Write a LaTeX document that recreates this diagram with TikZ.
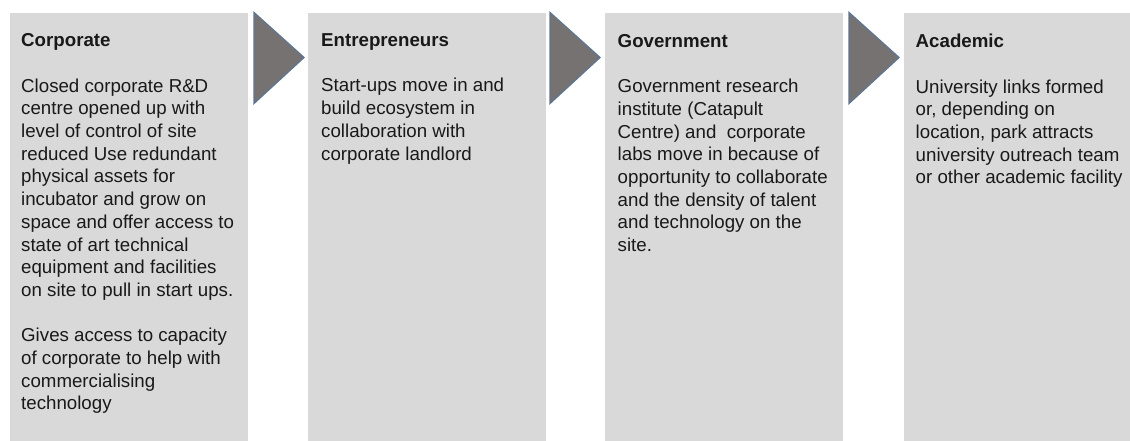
\documentclass[tikz,border=0pt]{standalone}
\usepackage{fontspec}
\setmainfont{Liberation Sans}
\usepackage{tikz}

\definecolor{fondbloc}{RGB}{217,217,217}
\definecolor{fondfleche}{RGB}{118,114,113}
\definecolor{bordfleche}{RGB}{95,117,144}
\definecolor{texte}{RGB}{25,25,25}

\begin{document}
\begin{tikzpicture}[x=1pt, y=-1pt,
	bloc/.style={rectangle, fill=fondbloc, anchor=north west, inner sep=0,
		minimum width=238pt, minimum height=428pt},
	contenu/.style={anchor=north west, inner sep=0, align=left, text=texte,
		font=\fontsize{18.7}{22.7}\selectfont},
	fleche/.style={fill=fondfleche, draw=bordfleche, line width=1.3pt, line join=miter}]
 \useasboundingbox (0,0) rectangle (1130,441);

	% Blocs
 \node[bloc] (c0) at (10,13) {};
 \node[bloc] (c1) at (308,13) {};
 \node[bloc] (c2) at (605,13) {};
 \node[bloc, minimum width=226pt] (c3) at (904,13) {};

	% Textes
 \node[contenu] (t0) at (21,33.5) {\textbf{Corporate}\\[22.7pt]
	Closed corporate R\&D\\ centre opened up with\\ level of control of site\\
	reduced Use redundant\\ physical assets for\\ incubator and grow on\\
	space and offer access to\\ state of art technical\\ equipment and facilities\\
	on site to pull in start ups.\\[22.7pt]
	Gives access to capacity\\ of corporate to help with\\ commercialising\\ technology};
 \node[contenu] (t1) at (321,33.5) {\textbf{Entrepreneurs}\\[22.7pt]
	Start-ups move in and\\ build ecosystem in\\ collaboration with\\ corporate landlord};
 \node[contenu] (t2) at (617.5,34) {\textbf{Government}\\[22.7pt]
	Government research\\ institute (Catapult\\ Centre) and \ corporate\\
	labs move in because of\\ opportunity to collaborate\\ and the density of talent\\
	and technology on the\\ site.};
 \node[contenu] (t3) at (915.5,34) {\textbf{Academic}\\[22.7pt]
	University links formed\\ or, depending on\\ location, park attracts\\
	university outreach team\\ or other academic facility};

	% Fleches entre blocs
 \foreach \x in {254,550,849}
  \filldraw[fleche] (\x,12.5) -- (\x+50,57.5) -- (\x,103.5) -- cycle;

\end{tikzpicture}
\end{document}
